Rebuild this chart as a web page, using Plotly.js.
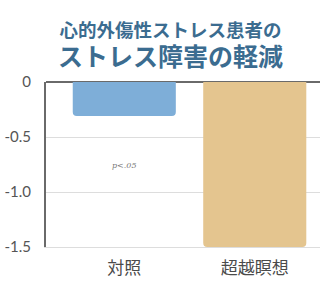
<!DOCTYPE html>
<html>
<head>
<meta charset="utf-8">
<script src="https://cdn.plot.ly/plotly-3.0.1.min.js"></script>
<style>html,body{margin:0;padding:0;background:#fff;}#chart{width:320px;height:293px;}</style>
</head>
<body>
<div id="chart"></div>
<script>
const categories = ["対照", "超越瞑想"];
const values = [-0.31, -1.5];
const barColors = ["#7eaed8", "#e4c58f"];
const yTickVals = [0, -0.5, -1.0, -1.5];
const yTickText = ["0", "-0.5", "-1.0", "-1.5"];
const titleLine1 = "心的外傷性ストレス患者の";
const titleLine2 = "ストレス障害の軽減";
const noteText = "p<.05";

const trace = {
  type: "bar",
  x: categories,
  y: values,
  width: 0.79,
  marker: { color: barColors, line: { width: 0 } },
  hoverinfo: "none"
};

const layout = {
  width: 320, height: 293,
  margin: { l: 46, r: 0, t: 82, b: 46, pad: 0 },
  paper_bgcolor: "#fff", plot_bgcolor: "#fff",
  showlegend: false,
  barcornerradius: 4,
  font: { family: "Lato, 'Noto Sans CJK JP', sans-serif", color: "#555" },
  xaxis: {
    type: "category",
    range: [-0.6, 1.5],
    showgrid: false, zeroline: false,
    showline: true, linecolor: "#dddddd", linewidth: 1,
    ticks: "",
    tickfont: { family: "'Noto Sans CJK JP', sans-serif", size: 17, color: "#4a4a4a" },
    ticklabelstandoff: 6
  },
  yaxis: {
    range: [-1.5, 0],
    tickvals: yTickVals, ticktext: yTickText,
    showgrid: true, gridcolor: "#dddddd", gridwidth: 1,
    zeroline: true, zerolinecolor: "#6a6a6a", zerolinewidth: 2,
    showline: true, linecolor: "#6a6a6a", linewidth: 2,
    ticks: "",
    tickfont: { family: "Lato, sans-serif", size: 15, color: "#555" },
    ticklabelstandoff: 10
  },
  annotations: [
    { text: "<b><span style='font-size:18.5px'>" + titleLine1 + "</span><br><span style='font-size:25px'>" + titleLine2 + "</span></b>",
      xref: "paper", yref: "paper", x: 0.456, y: 1,
      xanchor: "center", yanchor: "bottom", yshift: 7, showarrow: false,
      font: { family: "'Noto Sans CJK JP', sans-serif", size: 22, color: "#3b6c90" } },
    { text: "<i>" + noteText + "</i>", xref: "x", yref: "y", x: categories[0], y: -0.76,
      showarrow: false, font: { family: "'DejaVu Serif', serif", size: 8, color: "#777" } }
  ]
};

Plotly.newPlot("chart", [trace], layout, { staticPlot: true, displayModeBar: false });
</script>
</body>
</html>
